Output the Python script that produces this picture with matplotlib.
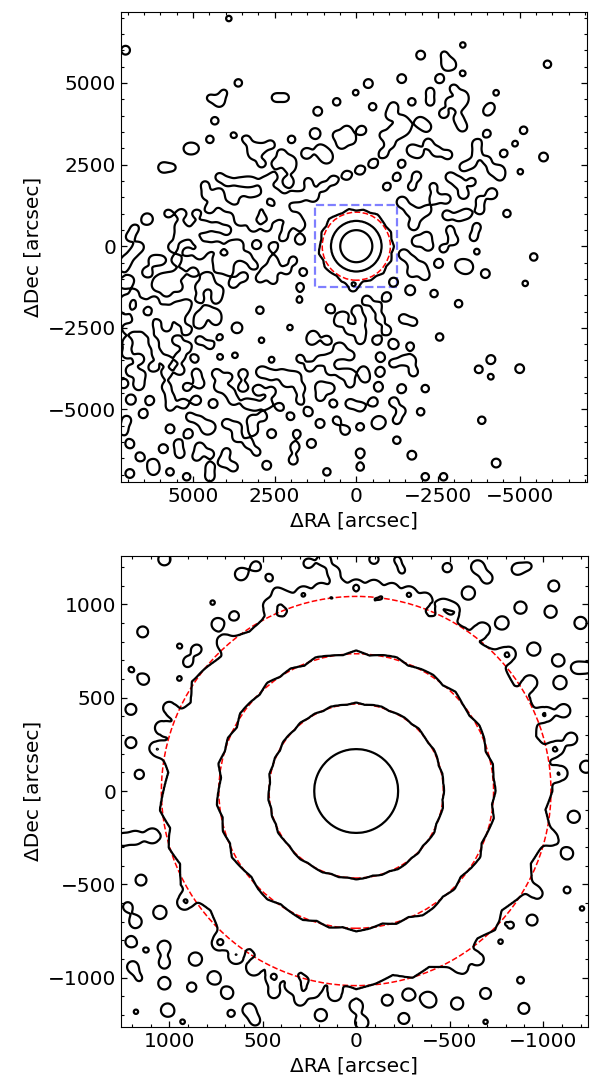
import numpy as np
import matplotlib
matplotlib.use('Agg')
import matplotlib.pyplot as plt
from matplotlib.patches import Circle, Rectangle
from matplotlib.ticker import MultipleLocator


# ---- data ----
# emission clumps (x = dRA, y = dDec in arcsec, peak intensity), top panel
top_upper = [
    (3900, 6970, 6), (7060, 6000, 8), (-1970, 5850, 8), (-2690, 5870, 6), (-2770, 5570, 8),
    (-2900, 5570, 7), (-3260, 6160, 6), (-5850, 5570, 7), (3610, 5000, 7), (-370, 4980, 8),
    (-1390, 5130, 8), (-2550, 5130, 8), (-3260, 5290, 6), (-2980, 4830, 7), (-2260, 4730, 7),
    (-3260, 4620, 7), (-3260, 4450, 7), (-4280, 4700, 6), (4480, 4540, 6), (4190, 4420, 9),
    (4050, 4700, 6), (2470, 4550, 7), (2180, 4550, 7), (600, 4420, 7), (20, 4700, 6),
    (1180, 4130, 8), (-500, 4270, 7), (-1140, 4270, 8), (-1700, 4420, 7), (-2260, 4420, 7),
    (-2850, 4420, 7), (-3130, 4270, 6), (-4120, 4270, 6), (-4000, 4110, 6), (4330, 3840, 7),
    (3760, 3400, 6), (4480, 3270, 7), (3360, 3270, 7), (-1040, 4010, 8), (-1390, 3860, 8),
    (-1500, 3700, 8), (-1450, 3550, 7), (-1950, 3800, 9), (-2150, 3650, 8), (-2670, 4060, 8),
    (-3130, 3900, 8), (-3250, 3650, 8), (-5120, 3550, 7), (-4000, 3450, 7), (1260, 3450, 10),
    (600, 3400, 7), (290, 3550, 8), (-170, 3550, 8), (450, 3120, 8), (140, 3250, 7),
    (-830, 3400, 7), (-1140, 3550, 7), (1980, 3270, 7), (5140, 2990, 8), (4950, 2990, 7),
    (3150, 3000, 8), (3150, 2800, 7), (2900, 2990, 7), (2620, 3120, 7), (2280, 2840, 7),
    (1520, 2840, 10), (1100, 2950, 9), (950, 2800, 8), (-2200, 3150, 8), (-1700, 2950, 9),
    (-1900, 2850, 8), (-2450, 2900, 9), (-2800, 2800, 8), (-3690, 3140, 8), (-3690, 2840, 7),
    (-4510, 2840, 7), (-4860, 3140, 6), (5910, 2410, 9), (5620, 2410, 6), (2900, 2530, 7),
    (2440, 2530, 8), (2030, 2600, 10), (2030, 2400, 8), (900, 2700, 8), (-1390, 2530, 7),
    (-3280, 2430, 7), (-3540, 2530, 7), (-4000, 2630, 7), (-4400, 2330, 7), (-5020, 2280, 6),
    (-5730, 2730, 8), (1310, 1510, 8), (1010, 1820, 8), (700, 2020, 8), (290, 2170, 8),
    (-120, 2330, 8), (-520, 2530, 8), (-830, 2840, 8), (-1040, 3140, 8), (-1240, 3450, 8),
    (4630, 1870, 7), (4190, 2120, 7), (3920, 1970, 7), (3610, 1970, 6), (3360, 1970, 7),
    (3150, 1970, 6), (2790, 1970, 8), (2540, 2120, 7), (2080, 1970, 10), (1470, 1970, 7),
    (-930, 1820, 7), (-1240, 2120, 7), (-1700, 1820, 7), (-1850, 2150, 8), (-2360, 1820, 7),
    (-2870, 2120, 8), (-3130, 1950, 9), (-3540, 1970, 7), (-4150, 2330, 7), (-4400, 2120, 6),
    (4600, 1560, 7), (4220, 1600, 9), (4220, 1400, 8), (3970, 1200, 8), (3660, 1100, 7),
    (3460, 1410, 7), (3150, 1300, 10), (2900, 1410, 7), (2740, 1710, 7), (2490, 1610, 8),
    (2280, 1400, 9), (2280, 1150, 8), (1980, 1510, 8), (1720, 1510, 8), (1420, 1660, 7),
    (-1400, 1350, 10), (-1650, 1100, 9), (-2400, 1450, 9), (-2750, 1450, 8), (-3280, 1600, 9),
    (-4150, 1610, 10), (-3790, 1410, 7),
]
top_middle = [
    (6400, 830, 11), (6780, 540, 7), (5760, 1000, 7), (5350, 1000, 8), (4890, 1000, 7),
    (4480, 1150, 8), (3460, 900, 7), (3150, 1000, 8), (2690, 1100, 7), (2540, 900, 7),
    (2200, 1000, 9), (1850, 900, 8), (-1900, 950, 8), (-2150, 1100, 8), (-2770, 950, 8),
    (-3130, 900, 7), (-3380, 1000, 8), (-3790, 1100, 7), (-4610, 1000, 7), (5400, 600, 9),
    (4890, 590, 7), (4630, 600, 10), (4280, 590, 8), (3970, 490, 8), (3560, 790, 8),
    (3150, 600, 9), (2740, 590, 8), (2130, 590, 7), (1720, 650, 9), (-1750, 650, 9),
    (-2160, 300, 8), (-2870, 490, 7), (-3690, 590, 7), (6930, 280, 7), (6640, -20, 8),
    (5620, -20, 8), (5440, 280, 7), (5190, 390, 8), (4890, 180, 7), (4580, -20, 8),
    (4250, 0, 8), (3850, 0, 8), (3600, 50, 8), (3050, 50, 8), (2540, -20, 8),
    (2230, 280, 7), (1720, 200, 9), (-1850, 150, 9), (-2200, 0, 8), (-2980, 180, 8),
    (-3590, 280, 7), (-2670, -70, 7), (-3690, -170, 6), (7030, -430, 8), (6830, -220, 7),
    (6210, -430, 8), (5960, -430, 7), (5500, -430, 8), (5170, -170, 7), (4790, -250, 9),
    (4250, -400, 8), (3900, -450, 8), (3660, -280, 7), (3360, -330, 8), (2540, -430, 7),
    (1930, -430, 7), (-1450, -250, 9), (-1700, -450, 8), (-2000, -630, 8), (-2520, -530, 8),
    (-3180, -580, 8), (-3350, -650, 7), (-5430, -330, 7), (7130, -630, 8), (6930, -1040, 7),
    (6400, -800, 9), (5950, -1000, 8), (5700, -940, 7), (5400, -840, 8), (4990, -790, 8),
    (4580, -940, 8), (4220, -680, 7), (3920, -740, 8), (3460, -940, 8), (3150, -580, 7),
    (2740, -740, 7), (2490, -680, 7), (2130, -740, 7), (1620, -790, 7), (-1700, -800, 8),
    (-2100, -900, 8), (-3380, -630, 8), (-3950, -840, 8), (7130, -1140, 8), (6780, -1450, 7),
    (6100, -1200, 9), (5800, -1400, 8), (5450, -1250, 8), (4790, -1250, 8), (4480, -1140, 7),
    (4220, -1350, 8), (3760, -1140, 8), (2950, -990, 7), (2540, -1040, 7),
    (1720, -1250, 7), (100, -1250, 8), (-1140, -1100, 8), (-1650, -1350, 9), (-2380, -1450, 7),
    (-5170, -1140, 6), (7080, -1650, 8), (6570, -1760, 8), (6200, -1700, 9), (5850, -1950, 8),
    (5500, -1860, 8), (5190, -1760, 7), (4790, -1600, 7), (4280, -1600, 8),
    (1740, -1650, 6), (800, -1910, 8), (-320, -1650, 8),
    (-930, -1550, 8), (-630, -1860, 8), (-10, -1960, 8), (-3130, -1760, 7), (7080, -1960, 7),
    (6700, -2100, 9), (6400, -2300, 8), (6110, -2060, 7), (5810, -2160, 8), (5300, -1960, 8),
    (4790, -2160, 8), (4580, -1960, 7), (4280, -2060, 6), (2950, -1960, 7),
    (400, -2150, 8), (-150, -2250, 8), (-730, -2220, 8), (-1440, -2220, 8),
]
top_lower = [
    (7030, -2520, 8), (6700, -2450, 9), (6350, -2600, 8), (5810, -2470, 8), (5400, -2270, 7),
    (5190, -2570, 8), (4790, -2370, 8), (4300, -2270, 8), (3650, -2500, 10),
    (2030, -2490, 6), (1310, -2730, 7), (550, -2320, 7), (200, -2550, 9), (-150, -2600, 8),
    (-930, -2570, 8), (-1750, -2320, 7), (-2550, -2780, 7), (7000, -2950, 9), (6200, -2950, 9),
    (5500, -2880, 8), (5190, -3080, 8), (4790, -2880, 7), (4480, -3030, 7), (4170, -2780, 6),
    (2900, -2880, 6), (1370, -2880, 7),
    (900, -2880, 8), (500, -3100, 8), (-120, -2880, 7), (-630, -2880, 8), (-1140, -3000, 9),
    (-1650, -3060, 7), (7030, -3290, 8), (6650, -3450, 9), (6110, -3290, 8), (5810, -3490, 8),
    (5400, -3390, 8), (4940, -3440, 7), (4170, -3390, 6), (3710, -3340, 6),
    (2590, -3470, 6), (1720, -3440, 7), (1420, -3700, 8), (1110, -3490, 8),
    (800, -3440, 8), (500, -3290, 8), (190, -3350, 8), (-730, -3390, 8), (-1440, -3490, 7),
    (-1700, -3490, 7), (-4120, -3470, 8), (-3740, -3770, 7), (6900, -3800, 9), (6600, -3950, 8),
    (6210, -3700, 8), (5810, -3900, 8), (5400, -3800, 8), (4890, -3900, 8), (4280, -3900, 8),
    (3920, -4000, 7), (3460, -3900, 8), (2900, -3850, 10), (2600, -3950, 8), (2280, -3900, 7),
    (2030, -4000, 7), (1820, -4000, 7), (800, -3800, 8), (450, -3900, 7), (190, -3900, 7),
    (-220, -3800, 7), (-730, -3850, 8), (-1140, -3590, 7), (-1750, -3850, 8), (-5000, -3750, 8),
    (-4120, -4000, 6), (7130, -4210, 8), (6650, -4250, 9), (5810, -4310, 8), (5190, -4310, 7),
    (4790, -4210, 8), (4200, -4300, 9), (3900, -4450, 8), (3460, -4310, 8), (3000, -4400, 9),
    (2600, -4450, 8), (2130, -4160, 8), (1720, -4350, 9), (1100, -4300, 9), (800, -4350, 8),
    (190, -4210, 7), (-270, -4050, 7), (-680, -4310, 8), (-1390, -4360, 8), (-2110, -4360, 7),
    (6900, -4700, 9), (6320, -4720, 8), (5700, -4620, 7), (5300, -4820, 8), (4890, -4720, 8),
    (4380, -4820, 8), (3760, -4720, 8), (3360, -4820, 8), (3100, -4870, 7), (2740, -4820, 8),
    (2340, -4920, 7), (1720, -4720, 7), (1110, -4620, 7), (700, -4820, 7), (190, -4820, 8),
    (-120, -4920, 8), (-520, -4770, 8), (-1140, -4770, 8), (-1390, -5040, 7), (-1970, -5070, 7),
    (7030, -5330, 8), (6520, -5130, 8), (5700, -4920, 7), (5090, -5230, 7), (4790, -5330, 7),
    (4480, -5530, 8), (3970, -5430, 8), (3660, -5530, 8), (3200, -5330, 8), (2850, -5230, 7),
    (2010, -5210, 7), (1470, -5070, 8), (1110, -5430, 8), (600, -5330, 7), (-730, -5380, 8),
    (-1240, -5330, 7), (-3840, -5330, 7), (7130, -5640, 8), (6930, -6050, 8), (5700, -5590, 8),
    (5450, -6040, 7), (5140, -5740, 8), (4580, -5590, 8), (3650, -5850, 8), (3150, -5640, 8),
    (2590, -5740, 8), (1820, -5740, 7), (1370, -6040, 8), (340, -5640, 8), (-120, -5530, 7),
    (-630, -5430, 7), (5910, -6200, 8), (5400, -6350, 8), (4790, -6150, 8), (4480, -6350, 7),
    (3970, -6300, 7), (3300, -6040, 8), (3050, -6300, 7), (1880, -6150, 8), (-1240, -5940, 7),
    (6620, -6450, 8), (6210, -6660, 8), (4890, -6450, 7), (4480, -6760, 7), (4070, -6610, 8),
    (3760, -6760, 8), (2740, -6710, 8), (1930, -6550, 8), (-120, -6330, 8), (-1700, -6400, 8),
    (-4280, -6640, 8), (6930, -6960, 8), (6210, -6860, 8), (5700, -6910, 7), (5190, -7060, 7),
    (4480, -7060, 8), (900, -6910, 7), (-120, -6760, 7), (-2110, -7060, 7), (-2670, -7060, 7),
]
top_clump_size = 138          # arcsec
# radial profile of the central source (radius in arcsec -> intensity)
top_prof_r = [0, 490, 770, 1090, 1250]
top_prof_v = [40, 20, 10, 5, 0]
top_levels = [5, 10, 20]
# outward bumps of the outer ring (arcsec), going round from -180 deg
top_wiggle = [60, 0, 70, 20, 80, 10, 50, 0, 60, 30, 80, 0, 40, 70, 10, 80,
              30, 0, 60, 20, 90, 40, 10, 70, 0, 50, 20, 80, 30, 0, 60, 10]
top_wig_r = [800, 1000, 1150]
top_wig_amp = [0, 0.5, 1.0]

# bottom panel: clumps touching the outer ring, then free clumps
bot_ring_lobes = [
    (463, 992, 10), (370, 1029, 9), (283, 1058, 11), (190, 1078, 10), (95, 1091, 12),
    (0, 1095, 11), (-95, 1091, 12), (-190, 1078, 10), (-283, 1058, 11), (-370, 1029, 9),
    (-463, 992, 10), (120, 1170, 9), (170, 1240, 9),
    (-514, 967, 12), (-674, 863, 12), (-814, 733, 12), (-929, 580, 12), (-1015, 410, 12),
    (-1071, 228, 12), (-1091, 95, 12), (-600, 1060, 10), (-780, 900, 10), (-950, 760, 10),
    (-1080, 700, 9), (-1090, 580, 10), (-1110, 430, 10), (-1150, 280, 9), (-1230, 130, 9),
    (720, 800, 7), (420, 1060, 7), (1071, 228, 10), (1041, 338, 10), (1000, 445, 9),
    (1090, -240, 12), (1180, -250, 10), (1250, -260, 9),
    (918, -596, 12), (1050, -650, 10), (1180, -700, 9),
    (733, -814, 12), (644, -886, 12), (548, -948, 12), (445, -1000, 12), (338, -1041, 12),
    (228, -1071, 10), (114, -1089, 10), (860, -900, 10), (760, -1000, 10), (690, -1080, 9),
    (440, -1080, 8), (300, -1120, 8),
    (0, -1150, 10), (-30, -1240, 10), (-280, -1090, 9), (-380, -1110, 8), (-650, -900, 9),
]
bot_islands = [
    (1026, 1241, 9), (616, 1161, 9), (536, 1205, 7), (465, 1143, 6), (768, 1009, 5.4),
    (652, 938, 7), (741, 893, 9), (1142, 852, 8), (946, 777, 5.4), (852, 759, 7),
    (900, 690, 7), (1205, 652, 5.4), (1137, 598, 8), (946, 602, 5.4), (1205, 437, 8),
    (1205, 259, 8), (1160, 89, 7), (257, 1219, 7),
    (-95, 1241, 7), (-219, 1241, 5.4), (-246, 1179, 5.4), (-487, 1196, 7), (-650, 1200, 10),
    (-700, 1140, 8), (-861, 1188, 8), (-923, 1205, 5.4), (-1057, 1098, 8), (-879, 982, 9),
    (-1040, 960, 9), (-1200, 900, 9), (-1180, 660, 8), (-1240, 660, 7),
    (1151, -477, 8), (1222, -620, 7), (1205, -807, 8), (1124, -852, 5.4), (1026, -834, 9),
    (1026, -920, 8), (1196, -941, 8), (1160, -1004, 5.4), (1026, -1030, 9), (880, -1050, 7),
    (1009, -1173, 10), (1178, -1182, 5.4), (928, -1236, 5.4), (670, -1191, 6), (572, -1170, 9),
    (540, -1230, 7), (189, -1200, 9),
    (-166, -1120, 8), (-255, -1218, 8), (-398, -1129, 5.4), (-567, -950, 8), (-540, -1138, 9),
    (-692, -1084, 8), (-692, -1236, 5.4), (-879, -1013, 6), (-897, -1164, 8), (-772, -807, 5.4),
    (-825, -718, 6), (-941, -691, 8), (-1128, -530, 6), (-1208, -629, 5.4), (-1164, -138, 9),
    (-1128, -334, 9), (-1057, -262, 7), (-968, -548, 8),
]
bot_clump_size = 30           # arcsec
bot_prof_r = [0, 224, 466, 735, 1030, 1090]
bot_prof_v = [160, 80, 30, 12, 5, 0]
bot_levels = [5, 12, 30, 80]
bot_wiggle = [10, -6, 14, 2, -9, 16, 5, -12, 8, -4, 13, 18, -5, 7, -13, 4,
              15, -3, 9, -9, 11, 2, -7, 14, 6, -11, 3, 17, -5, 9, -8, 13,
              1, -10, 15, -2, 7, -13, 11, 5, -6, 14, -1, 8, -10, 12, 3, -5,
              16, -7, 6, 12, -9, 4, 10, -4, 15, 0, -8, 11, 5, -12, 9, 2]
bot_wig_r = [250, 466, 735, 1030]
bot_wig_amp = [0, 0.4, 1.0, 2.0]

# overlays
top_circle_r = 1042
box_half = 1250
bot_circle_r = [466, 735, 1042]


def make_field(extent, n, clumps, size, prof_r, prof_v, wig, wig_r, wig_amp, cap):
    g = np.linspace(-extent, extent, n)
    X, Y = np.meshgrid(g, g)
    r = np.hypot(X, Y)
    th = np.arctan2(Y, X)
    ang = np.linspace(-np.pi, np.pi, len(wig), endpoint=False)
    w = np.interp(th, ang, wig, period=2 * np.pi)
    r_eff = r - np.interp(r, wig_r, wig_amp) * w
    P = np.interp(r_eff, prof_r, prof_v)
    D = np.zeros_like(P)
    for cx, cy, amp in clumps:
        D += amp * np.exp(-((X - cx) ** 2 + (Y - cy) ** 2) / (2 * size ** 2))
    # diffuse clumps only ever reach the lowest contour
    return g, P + np.minimum(D, cap)


def style(ax, major, minor):
    ax.xaxis.set_major_locator(MultipleLocator(major))
    ax.yaxis.set_major_locator(MultipleLocator(major))
    ax.xaxis.set_minor_locator(MultipleLocator(minor))
    ax.yaxis.set_minor_locator(MultipleLocator(minor))
    ax.tick_params(which='both', direction='in', top=True, right=True, labelsize=14.5)
    ax.tick_params(which='major', length=4, width=0.9)
    ax.tick_params(which='minor', length=2.5, width=0.8)
    ax.set_xlabel('ΔRA [arcsec]', fontsize=14.5)
    ax.set_ylabel('ΔDec [arcsec]', fontsize=14.5)


fig = plt.figure(figsize=(5.9, 10.79), dpi=100)

# top panel
ax1 = fig.add_axes([121 / 590, 1 - 482 / 1079, 466 / 590, 470 / 1079])
g, Z = make_field(7250, 620, top_upper + top_middle + top_lower, top_clump_size,
                  top_prof_r, top_prof_v, top_wiggle, top_wig_r, top_wig_amp, 9.5)
ax1.contour(g, g, Z, levels=top_levels, colors='k', linewidths=1.6)
ax1.add_patch(Circle((0, 0), top_circle_r, fill=False, ec='red', ls='--', lw=1.1))
ax1.add_patch(Rectangle((-box_half, -box_half), 2 * box_half, 2 * box_half,
                        fill=False, ec='blue', alpha=0.5, ls='--', lw=1.6))
ax1.set_xlim(7200, -7060)
ax1.set_ylim(-7220, 7170)
style(ax1, 2500, 500)

# bottom panel
ax2 = fig.add_axes([121 / 590, 1 - 1026.7 / 1079, 467 / 590, 471 / 1079])
g, Z = make_field(1270, 620, bot_ring_lobes + bot_islands, bot_clump_size,
                  bot_prof_r, bot_prof_v, bot_wiggle, bot_wig_r, bot_wig_amp, 11.5)
ax2.contour(g, g, Z, levels=bot_levels, colors='k', linewidths=1.6)
for rad in bot_circle_r:
    ax2.add_patch(Circle((0, 0), rad, fill=False, ec='red', ls='--', lw=1.1))
ax2.set_xlim(1258, -1240)
ax2.set_ylim(-1262, 1260)
style(ax2, 500, 100)

fig.savefig('out.png', dpi=100)
